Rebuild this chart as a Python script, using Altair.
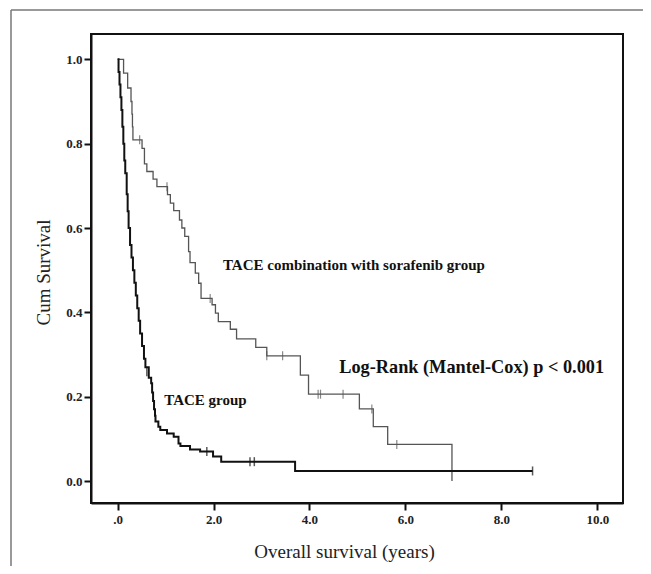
import altair as alt
import pandas as pd

# TACE combination with sorafenib group (Kaplan-Meier steps)
combo_time = [0, 0.125, 0.21, 0.28, 0.30, 0.31, 0.32, 0.51, 0.56, 0.61, 0.74, 0.82, 1.04, 1.10,
              1.17, 1.29, 1.34, 1.40, 1.48, 1.51, 1.62, 1.69, 1.74, 1.97, 2.04, 2.10, 2.35,
              2.48, 2.88, 3.11, 3.81, 3.98, 5.04, 5.33, 5.63, 6.97]
combo_surv = [1.0, 0.967, 0.932, 0.90, 0.87, 0.84, 0.809, 0.789, 0.752, 0.734, 0.716, 0.698,
              0.679, 0.659, 0.641, 0.619, 0.600, 0.580, 0.544, 0.518, 0.493, 0.469, 0.433,
              0.418, 0.398, 0.378, 0.360, 0.337, 0.317, 0.297, 0.251, 0.206, 0.171, 0.129,
              0.087, 0.0]
combo_cens_time = [0.46, 1.03, 1.93, 3.11, 3.44, 4.18, 4.23, 4.70, 5.30, 5.82]
combo_cens_surv = [0.809, 0.698, 0.433, 0.297, 0.297, 0.206, 0.206, 0.206, 0.171, 0.087]

# TACE group
tace_time = [0, 0.02, 0.04, 0.06, 0.08, 0.10, 0.12, 0.14, 0.16, 0.19, 0.21, 0.23, 0.26, 0.29,
             0.32, 0.35, 0.38, 0.41, 0.44, 0.47, 0.51, 0.55, 0.58, 0.65, 0.70, 0.72, 0.74,
             0.76, 0.78, 0.79, 0.85, 0.89, 1.03, 1.17, 1.27, 1.31, 1.51, 1.72, 1.99, 2.16,
             3.70, 8.65]
tace_surv = [1.0, 0.97, 0.94, 0.91, 0.88, 0.84, 0.80, 0.76, 0.73, 0.68, 0.64, 0.60, 0.56, 0.53,
             0.50, 0.47, 0.44, 0.41, 0.38, 0.35, 0.32, 0.29, 0.27, 0.245, 0.232, 0.21, 0.19,
             0.17, 0.155, 0.141, 0.129, 0.121, 0.113, 0.105, 0.089, 0.083, 0.075, 0.070,
             0.058, 0.046, 0.024, 0.024]
tace_cens_time = [0.61, 1.86, 2.76, 2.85, 8.65]
tace_cens_surv = [0.259, 0.070, 0.046, 0.046, 0.024]

x_ticks = [0, 2, 4, 6, 8, 10]
y_ticks = [0.0, 0.2, 0.4, 0.6, 0.8, 1.0]

annot_text = ["TACE combination with sorafenib group", "TACE group"]
annot_x = [2.196, 0.973]
annot_y = [0.512, 0.192]
logrank_text = ["Log-Rank (Mantel-Cox) p < 0.001"]
logrank_x = [4.62]
logrank_y = [0.269]

df_c = pd.DataFrame({"time": combo_time, "surv": combo_surv})
df_t = pd.DataFrame({"time": tace_time, "surv": tace_surv})
df_cc = pd.DataFrame({"time": combo_cens_time, "surv": combo_cens_surv})
df_tc = pd.DataFrame({"time": tace_cens_time, "surv": tace_cens_surv})
df_a = pd.DataFrame({"label": annot_text, "x": annot_x, "y": annot_y})
df_l = pd.DataFrame({"label": logrank_text, "x": logrank_x, "y": logrank_y})

x_scale = alt.Scale(domain=[-0.554, 10.535], nice=False, zero=False)
y_scale = alt.Scale(domain=[-0.052, 1.060], nice=False, zero=False)

common_axis = dict(
    grid=False, domainColor="#111", domainWidth=2, tickColor="#111", tickWidth=2, tickSize=7,
    labelFont="Liberation Serif", labelFontWeight="bold", labelFontSize=13, labelColor="#222",
    titleFont="Liberation Serif", titleFontSize=19, titleFontWeight="normal", titleColor="#222",
)
x_axis = alt.Axis(values=x_ticks,
                  labelExpr="datum.value == 0 ? '.0' : format(datum.value, '.1f')",
                  title="Overall survival (years)", labelPadding=3,
                  titleX=253, titleY=48, titleAlign="center", titleBaseline="middle",
                  **common_axis)
y_axis = alt.Axis(values=y_ticks, format=".1f", title="Cum Survival", labelPadding=2,
                  titleX=-48, titleY=238, titleAlign="center", titleBaseline="middle",
                  titleAngle=270, **common_axis)

X = alt.X("time:Q", scale=x_scale, axis=x_axis)
Y = alt.Y("surv:Q", scale=y_scale, axis=y_axis)

combo_line = alt.Chart(df_c).mark_line(interpolate="step-after", color="#555", strokeWidth=1.3).encode(
    x=X, y=Y, order="time:Q")
tace_line = alt.Chart(df_t).mark_line(interpolate="step-after", color="#111", strokeWidth=2).encode(
    x=alt.X("time:Q", scale=x_scale), y=alt.Y("surv:Q", scale=y_scale), order="time:Q")
combo_cens = alt.Chart(df_cc).mark_tick(orient="vertical", size=9, thickness=1.2, color="#555").encode(
    x=alt.X("time:Q", scale=x_scale), y=alt.Y("surv:Q", scale=y_scale))
tace_cens = alt.Chart(df_tc).mark_tick(orient="vertical", size=9, thickness=1.5, color="#111").encode(
    x=alt.X("time:Q", scale=x_scale), y=alt.Y("surv:Q", scale=y_scale))

annots = alt.Chart(df_a).mark_text(align="left", baseline="middle", font="Liberation Serif",
                                   fontWeight="bold", fontSize=15, color="#111").encode(
    x=alt.X("x:Q", scale=x_scale), y=alt.Y("y:Q", scale=y_scale), text="label:N")
logrank = alt.Chart(df_l).mark_text(align="left", baseline="middle", font="Liberation Serif",
                                    fontWeight="bold", fontSize=18.3, color="#111").encode(
    x=alt.X("x:Q", scale=x_scale), y=alt.Y("y:Q", scale=y_scale), text="label:N")

frame_df = pd.DataFrame({"k": [0]})
frame_top = alt.Chart(frame_df).mark_rule(color="#777", strokeWidth=1.5).encode(
    x=alt.value(-80), x2=alt.value(560), y=alt.value(-24))
frame_left = alt.Chart(frame_df).mark_rule(color="#777", strokeWidth=1.5).encode(
    x=alt.value(-80), y=alt.value(-24), y2=alt.value(540))

chart = alt.layer(
    combo_line, tace_line, combo_cens, tace_cens, annots, logrank, frame_top, frame_left
).properties(
    width=532, height=469,
    autosize=alt.AutoSizeParams(type="none"),
    padding={"left": 83, "top": 26, "right": 20, "bottom": 63},
    background="white",
).configure_view(stroke="#111", strokeWidth=2)

chart.save("out.html", embed_options={"renderer": "svg", "actions": False})
